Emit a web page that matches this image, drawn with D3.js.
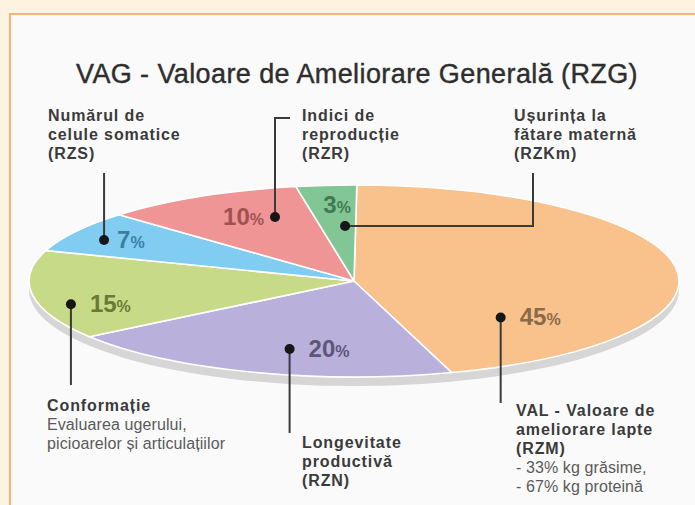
<!DOCTYPE html>
<html>
<head>
<meta charset="utf-8">
<script src="https://cdn.jsdelivr.net/npm/d3@7"></script>
<style>
    html, body { margin: 0; padding: 0; background: #fdf3e0; }
    svg { display: block; }
    .lbl { font-family: "Liberation Sans", Arial, sans-serif; font-size: 16px; letter-spacing: 0.9px; }
    .lbl .b { font-weight: bold; fill: #3b3b3b; }
    .lbl .n { fill: #5a5a5a; letter-spacing: 0.1px; }
    .pct { font-family: "Liberation Sans", Arial, sans-serif; font-weight: bold; }
</style>
</head>
<body>
<svg id="chart" width="695" height="505"></svg>
<script>
// slices, clockwise from 12 o'clock
var keys = ['RZM', 'RZN', 'CONF', 'RZS', 'RZR', 'RZKm'];
var shares = [45, 20, 15, 7, 10, 3];
var sliceColors = ['#f9c18b', '#b9b0dc', '#c7da87', '#80cdf1', '#ef9595', '#83c695'];
var pctColors = ['#8a6b49', '#5d5676', '#6c7a35', '#3c7fa2', '#a05252', '#3f7a52'];

// callout texts (b = bold line, n = normal line)
var calloutTexts = [
    [['b', 'VAL - Valoare de'], ['b', 'ameliorare lapte'], ['b', '(RZM)'], ['n', '- 33% kg grăsime,'], ['n', '- 67% kg proteină']],
    [['b', 'Longevitate'], ['b', 'productivă'], ['b', '(RZN)']],
    [['b', 'Conformație'], ['n', 'Evaluarea ugerului,'], ['n', 'picioarelor și articulațiilor']],
    [['b', 'Numărul de'], ['b', 'celule somatice'], ['b', '(RZS)']],
    [['b', 'Indici de'], ['b', 'reproducție'], ['b', '(RZR)']],
    [['b', 'Ușurința la'], ['b', 'fătare maternă'], ['b', '(RZKm)']]
];

var title = 'VAG - Valoare de Ameliorare Generală (RZG)';

// layout of the callouts: where in the slice the dot sits (t = fraction of the slice angle,
// r = fraction of radius), where the percent goes, how the leader runs and where the text block is
var layout = {
    RZM:  { t: 0.80, r: 0.59, pdx: 19, pdy: 0, anchor: 'start', leader: [['v', 403]], tx: 516, ty: 416 },
    RZN:  { t: 0.46, r: 0.736, pdx: 19, pdy: 0, anchor: 'start', leader: [['v', 433]], tx: 302, ty: 448 },
    CONF: { t: 0.37, r: 0.904, pdx: 19, pdy: 0, anchor: 'start', leader: [['v', 385]], tx: 47, ty: 411 },
    RZS:  { t: 0.42, r: 0.88, pdx: 13, pdy: 0, anchor: 'start', leader: [['v', 173]], tx: 48, ty: 121 },
    RZR:  { t: 0.73, r: 0.71, pdx: -11, pdy: 0, anchor: 'end', leader: [['v', 118], ['h', 290]], tx: 302, ty: 121 },
    RZKm: { t: 0.70, r: 0.573, pdx: -8, pdy: -21, anchor: 'middle', leader: [['h', 533], ['v', 173]], tx: 514, ty: 121 }
};

var W = 695, H = 505;
var cx = 354, cy = 281, R = 325, RY = 96, depth = 9;
var squash = RY / R;

var svg = d3.select('#chart');

// frame
svg.append('rect').attr('width', W).attr('height', H).attr('fill', '#fdf3e0');
svg.append('rect')
    .attr('x', 9).attr('y', 13)
    .attr('width', W - 9).attr('height', H - 13)
    .attr('fill', '#fafafa');
svg.append('path')
    .attr('d', 'M10,' + H + 'V14H' + W)
    .attr('fill', 'none')
    .attr('stroke', '#f4b57a')
    .attr('stroke-width', 2.2);

svg.append('text')
    .attr('x', 357).attr('y', 83)
    .attr('text-anchor', 'middle')
    .attr('font-family', '"Liberation Sans", Arial, sans-serif')
    .attr('font-size', 27)
    .attr('letter-spacing', 0.4)
    .attr('fill', '#2e2e2e')
    .attr('stroke', '#2e2e2e')
    .attr('stroke-width', 0.4)
    .text(title);

var data = keys.map(function (k, i) {
    return { key: k, value: shares[i], color: sliceColors[i], pctColor: pctColors[i], lines: calloutTexts[i] };
});

var pie = d3.pie()
    .sort(null)
    .value(function (d) { return d.value; })
    .startAngle(0.5 * Math.PI / 180)
    .endAngle(0.5 * Math.PI / 180 + 2 * Math.PI);

var arcs = pie(data);
var arc = d3.arc().innerRadius(0).outerRadius(R);

// rim under the disc
svg.append('ellipse')
    .attr('cx', cx).attr('cy', cy + depth)
    .attr('rx', R).attr('ry', RY)
    .attr('fill', '#d6d6d6');

var disc = svg.append('g')
    .attr('transform', 'translate(' + cx + ',' + cy + ') scale(1,' + squash + ')');

disc.selectAll('path.slice')
    .data(arcs)
    .enter().append('path')
    .attr('class', 'slice')
    .attr('d', arc)
    .attr('fill', function (d) { return d.data.color; })
    .attr('stroke', '#ffffff')
    .attr('stroke-width', 1.6)
    .attr('vector-effect', 'non-scaling-stroke');

function dotPos(d) {
    var L = layout[d.data.key];
    var a = d.startAngle + L.t * (d.endAngle - d.startAngle);
    var p = d3.pointRadial(a, L.r * R);
    return [cx + p[0], cy + p[1] * squash];
}

var callouts = svg.append('g').selectAll('g.callout')
    .data(arcs)
    .enter().append('g')
    .attr('class', 'callout');

// leaders
callouts.append('path')
    .attr('d', function (d) {
        var p = dotPos(d);
        var x = p[0], y = p[1];
        var s = 'M' + x + ',' + y;
        layout[d.data.key].leader.forEach(function (seg) {
            if (seg[0] === 'v') { y = seg[1]; } else { x = seg[1]; }
            s += 'L' + x + ',' + y;
        });
        return s;
    })
    .attr('fill', 'none')
    .attr('stroke', '#3a3a3a')
    .attr('stroke-width', 2);

callouts.append('circle')
    .attr('cx', function (d) { return dotPos(d)[0]; })
    .attr('cy', function (d) { return dotPos(d)[1]; })
    .attr('r', 5)
    .attr('fill', '#161616');

// percents
var pct = callouts.append('text')
    .attr('class', 'pct')
    .attr('x', function (d) { return dotPos(d)[0] + layout[d.data.key].pdx; })
    .attr('y', function (d) { return dotPos(d)[1] + layout[d.data.key].pdy + 8; })
    .attr('text-anchor', function (d) { return layout[d.data.key].anchor; })
    .attr('fill', function (d) { return d.data.pctColor; });
pct.append('tspan')
    .attr('font-size', 24)
    .text(function (d) { return d.data.value; });
pct.append('tspan')
    .attr('font-size', 16)
    .text('%');

// text blocks
callouts.each(function (d) {
    var L = layout[d.data.key];
    var t = d3.select(this).append('text')
        .attr('class', 'lbl')
        .attr('x', L.tx)
        .attr('y', L.ty);
    t.selectAll('tspan')
        .data(d.data.lines)
        .enter().append('tspan')
        .attr('class', function (l) { return l[0]; })
        .attr('x', L.tx)
        .attr('dy', function (l, i) { return i === 0 ? 0 : 19; })
        .text(function (l) { return l[1]; });
});
</script>
</body>
</html>
